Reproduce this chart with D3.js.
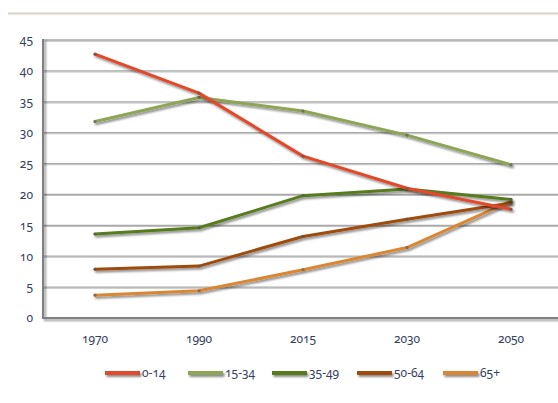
<!DOCTYPE html>
<html>
<head>
<meta charset="utf-8">
<script src="https://cdn.jsdelivr.net/npm/d3@7"></script>
<style>
  html, body { margin: 0; padding: 0; background: #fff; }
  svg text { font-family: "Noto Sans", "Open Sans", sans-serif; font-feature-settings: "onum"; font-variant-numeric: oldstyle-nums; fill: #34405e; font-size: 12px; }
</style>
</head>
<body>
<svg id="chart" width="558" height="403"></svg>
<script>
// Population share by age group (%)
const years = ["1970", "1990", "2015", "2030", "2050"];
const seriesNames = ["0-14", "15-34", "35-49", "50-64", "65+"];
const age0to14  = [42.7, 36.4, 26.2, 21.0, 17.6];
const age15to34 = [31.8, 35.7, 33.5, 29.6, 24.8];
const age35to49 = [13.6, 14.6, 19.8, 20.9, 19.2];
const age50to64 = [7.9, 8.4, 13.2, 16.0, 18.6];
const age65plus = [3.7, 4.4, 7.8, 11.4, 18.9];
const yTicks = [0, 5, 10, 15, 20, 25, 30, 35, 40, 45];
const colors = ["#e2482a", "#8ea556", "#567b1f", "#9e4b0c", "#da8632"];

const series = [age0to14, age15to34, age35to49, age50to64, age65plus]
  .map((vals, i) => ({ name: seriesNames[i], color: colors[i], values: vals }));

const W = 558, H = 403;
const svg = d3.select("#chart");
const plot = { left: 43, right: 563, top: 40, bottom: 318 };

const x = d3.scaleBand().domain(years).range([plot.left, plot.right]);
const y = d3.scaleLinear().domain([0, 45]).range([plot.bottom, plot.top]);

// shadows use user-space regions so thin horizontal/vertical lines still render
const defs = svg.append("defs");
function makeShadow(id, dx, dy, sd, op) {
  defs.append("filter").attr("id", id)
    .attr("filterUnits", "userSpaceOnUse")
    .attr("x", 0).attr("y", 0).attr("width", W).attr("height", H)
    .append("feDropShadow").attr("dx", dx).attr("dy", dy).attr("stdDeviation", sd)
    .attr("flood-color", "#000").attr("flood-opacity", op);
}
makeShadow("shadow", 1.5, 2, 1.2, 0.45);
makeShadow("gshadow", 0, 1, 0.6, 0.25);
makeShadow("ashadow", 2, 2, 1.3, 0.4);

// header rule
svg.append("line").attr("x1", 8).attr("x2", W).attr("y1", 13.5).attr("y2", 13.5)
  .attr("stroke", "#d9d3cb").attr("stroke-width", 2);

// horizontal gridlines
svg.append("g").attr("filter", "url(#gshadow)")
  .selectAll("line").data(yTicks.filter(d => d > 0)).join("line")
  .attr("x1", plot.left).attr("x2", W)
  .attr("y1", d => y(d)).attr("y2", d => y(d))
  .attr("stroke", "#a9a9a9").attr("stroke-width", 1.3);

// axes frame
const frame = svg.append("g").attr("filter", "url(#ashadow)");
frame.append("line").attr("x1", plot.left).attr("x2", W).attr("y1", plot.bottom).attr("y2", plot.bottom)
  .attr("stroke", "#808080").attr("stroke-width", 2);
frame.append("line").attr("x1", plot.left).attr("x2", plot.left).attr("y1", plot.top - 1).attr("y2", plot.bottom + 1)
  .attr("stroke", "#808080").attr("stroke-width", 2);

// y axis labels
const yAxis = d3.axisLeft(y).tickValues(yTicks).tickSize(0).tickPadding(10);
svg.append("g").attr("transform", `translate(${plot.left},0)`).call(yAxis)
  .call(g => g.select(".domain").remove())
  .selectAll("text").attr("font-size", 12).attr("dy", "0.32em");

// x axis labels
const xAxis = d3.axisBottom(x).tickSize(0).tickPadding(16);
svg.append("g").attr("transform", `translate(0,${plot.bottom})`).call(xAxis)
  .call(g => g.select(".domain").remove())
  .selectAll("text").attr("font-size", 12);

// series lines
const line = d3.line()
  .x((d, i) => x(years[i]) + x.bandwidth() / 2)
  .y(d => y(d));

const lines = svg.append("g");
series.slice().reverse().forEach(s => {
  const g = lines.append("g").attr("filter", "url(#shadow)");
  g.append("path").datum(s.values).attr("d", line)
    .attr("fill", "none").attr("stroke", s.color).attr("stroke-width", 3)
    .attr("stroke-linejoin", "round").attr("stroke-linecap", "round");
  g.selectAll("circle").data(s.values).join("circle")
    .attr("cx", (d, i) => x(years[i]) + x.bandwidth() / 2)
    .attr("cy", d => y(d)).attr("r", 1.6)
    .attr("fill", "#555").attr("opacity", 0.6);
});

// legend
const legendX = [105, 188, 272, 357, 443];
const legend = svg.append("g");
series.forEach((s, i) => {
  const gx = legendX[i];
  legend.append("line").attr("x1", gx).attr("x2", gx + 35).attr("y1", 373).attr("y2", 373)
    .attr("stroke", s.color).attr("stroke-width", 4).attr("filter", "url(#shadow)");
  legend.append("text").attr("x", gx + 37).attr("y", 373).attr("dy", "0.35em")
    .attr("font-size", 12.5).text(s.name);
});
</script>
</body>
</html>
